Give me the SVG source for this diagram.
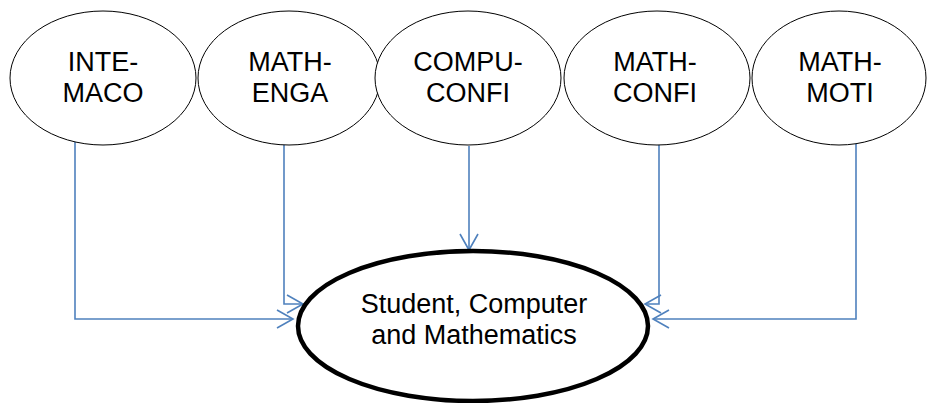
<svg xmlns="http://www.w3.org/2000/svg" width="927" height="403" viewBox="0 0 927 403">
<style>
.node ellipse{fill:#fff;stroke:#000;stroke-width:1}
.main ellipse{fill:#fff;stroke:#000;stroke-width:4.5}
text{font-family:"Liberation Sans",Arial,sans-serif;font-size:27px;fill:#000;text-anchor:middle}
.conn path{fill:none;stroke:#4F81BD;stroke-width:1.6}
</style>
<defs>
<marker id="arr" markerUnits="userSpaceOnUse" markerWidth="22" markerHeight="22" viewBox="-19 -11 22 22" refX="0" refY="0" orient="auto" overflow="visible">
<path d="M-16,-9 L0,0 L-16,9" fill="none" stroke="#4F81BD" stroke-width="1.6"/>
</marker>
</defs>
<rect width="927" height="403" fill="#fff"/>
<g class="conn" id="connectors">
<path d="M75,142 V319 H293" marker-end="url(#arr)"/>
<path d="M284,145 V304 H303" marker-end="url(#arr)"/>
<path d="M469,146 V250" marker-end="url(#arr)"/>
<path d="M659,145 V304 H645" marker-end="url(#arr)"/>
<path d="M856,143 V319 H653" marker-end="url(#arr)"/>
</g>
<g id="n1" class="node"><ellipse cx="103" cy="78" rx="93" ry="67"/><text x="103" y="71">INTE-</text><text x="103" y="102">MACO</text></g>
<g id="n2" class="node"><ellipse cx="289" cy="78" rx="91" ry="67"/><text x="290" y="71">MATH-</text><text x="290" y="102">ENGA</text></g>
<g id="n3" class="node"><ellipse cx="468" cy="78" rx="93" ry="67"/><text x="468" y="71">COMPU-</text><text x="468" y="102">CONFI</text></g>
<g id="n4" class="node"><ellipse cx="657" cy="78" rx="93" ry="67"/><text x="655" y="71">MATH-</text><text x="655" y="102">CONFI</text></g>
<g id="n5" class="node"><ellipse cx="839" cy="78" rx="87" ry="67"/><text x="840" y="71">MATH-</text><text x="840" y="102">MOTI</text></g>
<g id="main" class="main"><ellipse cx="473" cy="326" rx="175" ry="75"/><text x="474" y="313">Student, Computer</text><text x="474" y="344">and Mathematics</text></g>
</svg>
